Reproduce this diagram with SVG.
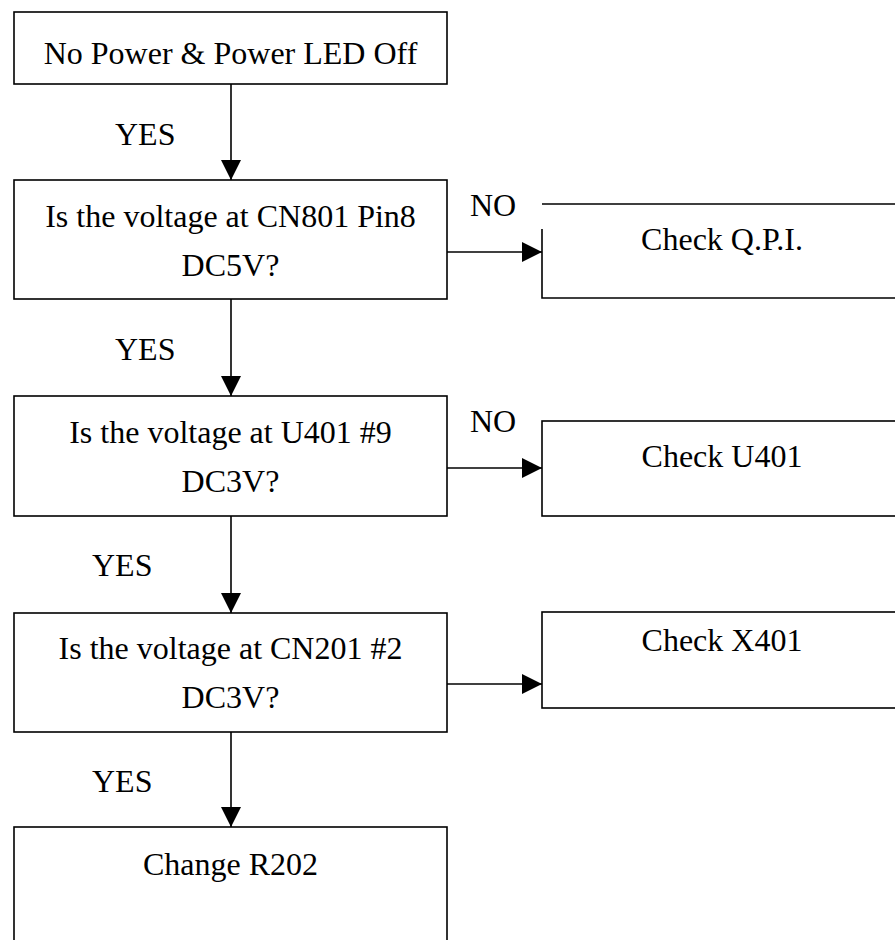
<svg xmlns="http://www.w3.org/2000/svg" width="895" height="940" viewBox="0 0 895 940">
<style>
.box{fill:#fff;stroke:#000;stroke-width:1.6}
.edge{fill:none;stroke:#000;stroke-width:1.6}
text{font-family:"Liberation Serif","Times New Roman",serif;font-size:32px;fill:#000}
.c{text-anchor:middle}
</style>
<defs>
<marker id="arr" markerUnits="userSpaceOnUse" markerWidth="20" markerHeight="20" refX="20" refY="10" orient="auto">
<path d="M0,0 L20,10 L0,20 Z" fill="#000"/>
</marker>
</defs>
<rect width="895" height="940" fill="#fff"/>
<g id="connectors">
<line class="edge" x1="231" y1="84" x2="231" y2="180" marker-end="url(#arr)"/>
<line class="edge" x1="231" y1="299" x2="231" y2="396" marker-end="url(#arr)"/>
<line class="edge" x1="231" y1="516" x2="231" y2="613" marker-end="url(#arr)"/>
<line class="edge" x1="231" y1="732" x2="231" y2="827" marker-end="url(#arr)"/>
<line class="edge" x1="447" y1="252" x2="542" y2="252" marker-end="url(#arr)"/>
<line class="edge" x1="447" y1="468" x2="542" y2="468" marker-end="url(#arr)"/>
<line class="edge" x1="447" y1="684" x2="542" y2="684" marker-end="url(#arr)"/>
<text x="115" y="145">YES</text>
<text x="115" y="360">YES</text>
<text x="92" y="576">YES</text>
<text x="92" y="792">YES</text>
<text x="470" y="216">NO</text>
<text x="470" y="432">NO</text>
</g>
<g id="start">
<rect class="box" x="14" y="12" width="433" height="72"/>
<text class="c" x="230.5" y="64">No Power &amp; Power LED Off</text>
</g>
<g id="q1">
<rect class="box" x="14" y="180" width="433" height="119"/>
<text class="c" x="230.5" y="227">Is the voltage at CN801 Pin8</text>
<text class="c" x="230.5" y="276">DC5V?</text>
</g>
<g id="q2">
<rect class="box" x="14" y="396" width="433" height="120"/>
<text class="c" x="230.5" y="443">Is the voltage at U401 #9</text>
<text class="c" x="230.5" y="492">DC3V?</text>
</g>
<g id="q3">
<rect class="box" x="14" y="613" width="433" height="119"/>
<text class="c" x="230.5" y="659">Is the voltage at CN201 #2</text>
<text class="c" x="230.5" y="708">DC3V?</text>
</g>
<g id="end">
<rect class="box" x="14" y="827" width="433" height="130"/>
<text class="c" x="230.5" y="875">Change R202</text>
</g>
<g id="checkQPI">
<rect x="542" y="204" width="360" height="94" fill="#fff"/>
<path class="edge" d="M542,229 L542,298 L902,298 M542,204 L902,204"/>
<text class="c" x="722" y="250">Check Q.P.I.</text>
</g>
<g id="checkU401">
<rect class="box" x="542" y="421" width="360" height="95"/>
<text class="c" x="722" y="467">Check U401</text>
</g>
<g id="checkX401">
<rect class="box" x="542" y="612" width="360" height="96"/>
<text class="c" x="722" y="651">Check X401</text>
</g>
</svg>
